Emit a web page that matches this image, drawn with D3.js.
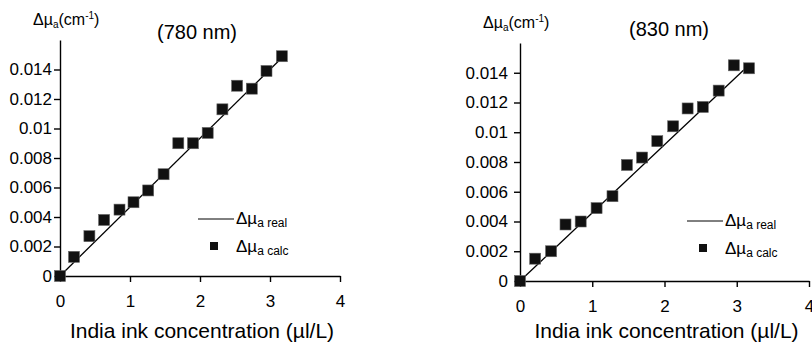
<!DOCTYPE html>
<html>
<head>
<meta charset="utf-8">
<script src="https://cdn.jsdelivr.net/npm/d3@7"></script>
<style>
  body { margin: 0; background: #fff; }
  svg { display: block; font-family: "Liberation Sans", Arial, sans-serif; }
  .axis path, .axis line { stroke: #000; stroke-width: 1.4; }
  .axis text { font-size: 17px; fill: #000; font-family: "Liberation Sans", Arial, sans-serif; }
</style>
</head>
<body>
<div id="chart-area"></div>
<script>
// x ticks and y ticks, shared by both panels
var xTicks = [0, 1, 2, 3, 4];
var yTicks = [0, 0.002, 0.004, 0.006, 0.008, 0.01, 0.012, 0.014];
var yTickLabels = ["0", "0.002", "0.004", "0.006", "0.008", "0.01", "0.012", "0.014"];

// 780 nm panel
var conc780 = [0, 0.2, 0.42, 0.63, 0.85, 1.05, 1.26, 1.48, 1.69, 1.9, 2.11, 2.32, 2.53, 2.74, 2.95, 3.17];
var calc780 = [0, 0.0013, 0.0027, 0.0038, 0.0045, 0.005, 0.0058, 0.0069, 0.009, 0.009, 0.0097, 0.0113, 0.0129, 0.0127, 0.0139, 0.0149];
var realConc780 = [0, 3.17];
var realMu780 = [0, 0.0148];

// 830 nm panel
var conc830 = [0, 0.21, 0.43, 0.63, 0.84, 1.06, 1.28, 1.48, 1.69, 1.9, 2.12, 2.32, 2.53, 2.75, 2.96, 3.17];
var calc830 = [0, 0.0015, 0.002, 0.0038, 0.004, 0.0049, 0.0057, 0.0078, 0.0083, 0.0094, 0.0104, 0.0116, 0.0117, 0.0128, 0.0145, 0.0143];
var realConc830 = [0, 3.1];
var realMu830 = [0, 0.0142];

var svg = d3.select("#chart-area")
    .append("svg")
    .attr("width", 812)
    .attr("height", 343);

function drawPanel(p) {
    var x = d3.scaleLinear().domain([0, 4]).range([p.left, p.right]);
    var y = d3.scaleLinear().domain([0, 0.016]).range([p.bottom, p.top]);

    svg.append("g")
        .attr("class", "axis")
        .attr("transform", "translate(0," + p.bottom + ")")
        .call(d3.axisBottom(x).tickValues(xTicks).tickSize(6).tickSizeOuter(0).tickPadding(13)
            .tickFormat(d3.format("d")));

    svg.append("g")
        .attr("class", "axis")
        .attr("transform", "translate(" + p.left + ",0)")
        .call(d3.axisLeft(y).tickValues(yTicks).tickSize(6).tickSizeOuter(0).tickPadding(p.yPad)
            .tickFormat((d, i) => yTickLabels[i]));

    // real line
    var realPts = p.realConc.map((c, i) => [c, p.realMu[i]]);
    svg.append("path")
        .datum(realPts)
        .attr("fill", "none")
        .attr("stroke", "#000")
        .attr("stroke-width", 1.3)
        .attr("d", d3.line().x(d => x(d[0])).y(d => y(d[1])));

    // calc markers
    var s = 11;
    svg.selectAll(null)
        .data(p.conc.map((c, i) => [c, p.calc[i]]))
        .enter().append("rect")
        .attr("x", d => x(d[0]) - s / 2)
        .attr("y", d => y(d[1]) - s / 2)
        .attr("width", s)
        .attr("height", s)
        .attr("fill", "#111")
        .attr("stroke", "#666")
        .attr("stroke-width", 0.6);

    // title
    svg.append("text")
        .attr("x", p.titleX)
        .attr("y", p.titleY)
        .attr("text-anchor", "middle")
        .attr("font-size", 20)
        .text(p.title);

    // x axis title
    svg.append("text")
        .attr("x", (p.left + p.right) / 2 + 2)
        .attr("y", 338)
        .attr("text-anchor", "middle")
        .attr("font-size", 21)
        .text("India ink concentration (\u00b5l/L)");

    // y axis label
    var yl = svg.append("text")
        .attr("x", p.ylabX)
        .attr("y", p.ylabY)
        .attr("font-size", 16);
    yl.append("tspan").text("\u0394\u00b5");
    yl.append("tspan").attr("font-size", 10).attr("dy", 3).text("a");
    yl.append("tspan").attr("dy", -3).text("(cm");
    yl.append("tspan").attr("font-size", 10).attr("dy", -6).text("-1");
    yl.append("tspan").attr("dy", 6).text(")");

    // legend
    svg.append("line")
        .attr("x1", p.legX - 38).attr("x2", p.legX - 2)
        .attr("y1", p.legY - 5).attr("y2", p.legY - 5)
        .attr("stroke", "#000").attr("stroke-width", 1);
    var t1 = svg.append("text").attr("x", p.legX).attr("y", p.legY).attr("font-size", 17);
    t1.append("tspan").text("\u0394\u00b5");
    t1.append("tspan").attr("font-size", 12).attr("dy", 3).text("a real");

    svg.append("rect")
        .attr("x", p.legX - 26).attr("y", p.legY + 18)
        .attr("width", 8).attr("height", 8)
        .attr("fill", "#111");
    var t2 = svg.append("text").attr("x", p.legX).attr("y", p.legY + 28).attr("font-size", 17);
    t2.append("tspan").text("\u0394\u00b5");
    t2.append("tspan").attr("font-size", 12).attr("dy", 3).text("a calc");
}

drawPanel({
    left: 60, right: 340, bottom: 276, top: 40, yPad: 2,
    conc: conc780, calc: calc780, realConc: realConc780, realMu: realMu780,
    title: "(780 nm)", titleX: 197, titleY: 39,
    ylabX: 33, ylabY: 25,
    legX: 236, legY: 224
});

drawPanel({
    left: 520, right: 809, bottom: 281, top: 43, yPad: 6,
    conc: conc830, calc: calc830, realConc: realConc830, realMu: realMu830,
    title: "(830 nm)", titleX: 669, titleY: 36,
    ylabX: 483, ylabY: 28,
    legX: 725, legY: 226
});
</script>
</body>
</html>
